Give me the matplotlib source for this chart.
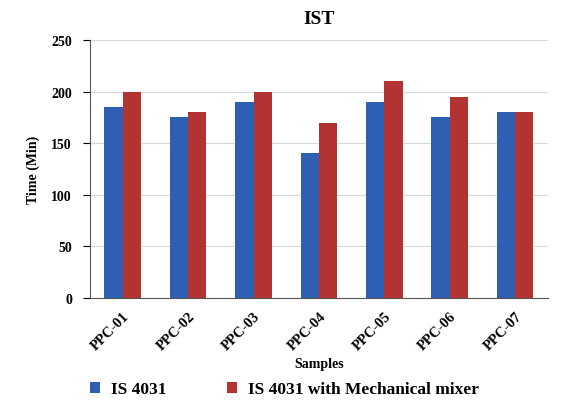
import numpy as np
import matplotlib.pyplot as plt

samples = ['PPC-01', 'PPC-02', 'PPC-03', 'PPC-04', 'PPC-05', 'PPC-06', 'PPC-07']
is4031 = [185, 175, 190, 140, 190, 175, 180]
is4031_mixer = [200, 180, 200, 170, 210, 195, 180]

plt.rcParams['font.family'] = ['Liberation Serif', 'DejaVu Serif']
plt.rcParams['font.weight'] = 'bold'

fig = plt.figure(figsize=(5.63, 4.06), dpi=100)
ax = fig.add_axes([0.16, 0.264, 0.813, 0.635])

x = np.arange(len(samples))
w = 0.28
ax.bar(x - w/2, is4031, w, color='#2f5fb3', label='IS 4031', zorder=3)
ax.bar(x + w/2, is4031_mixer, w, color='#b33232', label='IS 4031 with Mechanical mixer', zorder=3)

ax.set_xlim(-0.5, len(samples) - 0.5)
ax.set_ylim(0, 250)
ax.set_yticks(range(0, 251, 50))
ax.set_xticks(x)
ax.set_xticklabels(samples, rotation=45, ha='right', rotation_mode='anchor', fontsize=10.5, fontweight='bold')
ax.tick_params(axis='y', labelsize=10, length=5, pad=8)
ax.tick_params(axis='x', length=0, pad=8)
ax.grid(axis='y', color='#d9d9d9', linewidth=0.8, zorder=0)
for s in ['top', 'right']:
    ax.spines[s].set_visible(False)
ax.spines['left'].set_color('#555555')
ax.spines['bottom'].set_color('#555555')

ax.set_title('IST', fontsize=14, fontweight='bold', pad=12)
ax.set_ylabel('Time (Min)', fontsize=10, fontweight='bold', labelpad=8)
ax.set_xlabel('Samples', fontsize=10, fontweight='bold', labelpad=4)

fig.legend(loc='lower center', bbox_to_anchor=(0.505, -0.02), ncol=2, frameon=False,
           fontsize=12.5, handlelength=0.6, handleheight=0.6, handletextpad=0.6, columnspacing=3.5)

fig.savefig('out.png', dpi=100)
